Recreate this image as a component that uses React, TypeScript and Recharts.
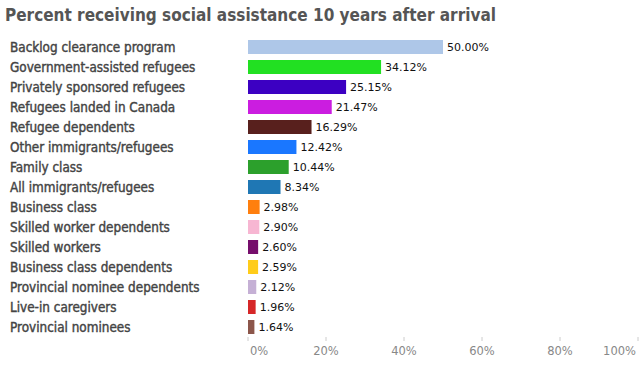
import React from 'react';
import { BarChart, Bar, XAxis, YAxis, Cell, LabelList } from 'recharts';

const categories = [
  'Backlog clearance program',
  'Government-assisted refugees',
  'Privately sponsored refugees',
  'Refugees landed in Canada',
  'Refugee dependents',
  'Other immigrants/refugees',
  'Family class',
  'All immigrants/refugees',
  'Business class',
  'Skilled worker dependents',
  'Skilled workers',
  'Business class dependents',
  'Provincial nominee dependents',
  'Live-in caregivers',
  'Provincial nominees',
];

const percents = [50.0, 34.12, 25.15, 21.47, 16.29, 12.42, 10.44, 8.34, 2.98, 2.9, 2.6, 2.59, 2.12, 1.96, 1.64];

const barColors = [
  '#aec7e8', '#22e022', '#3c00c2', '#cb1de0', '#58201d', '#1a77ff', '#2ca02c', '#1f77b4',
  '#ff7f0e', '#f7b6d2', '#760e6c', '#ffcc1a', '#c5b0d5', '#d62728', '#8c564b',
];

const xTicks = [0, 20, 40, 60, 80, 100];

const chartData = categories.map((name, i) => ({ name, value: percents[i] }));

const FONT = '"DejaVu Sans", Verdana, sans-serif';
const COND = '"DejaVu Sans Condensed", "DejaVu Sans", sans-serif';

const CategoryTick = (props: any) => {
  const { y, payload } = props;
  return (
    <text
      x={10} y={y} dy={5} textAnchor="start" fontFamily={COND} fontSize={13.4}
      fill="#444" stroke="#444" strokeWidth={0.4} style={{ fontStretch: 'condensed' }}
    >
      {payload.value}
    </text>
  );
};

const PercentTick = (props: any) => {
  const { x, y, payload, index } = props;
  let anchor = 'middle';
  let dx = 0;
  if (index === 0) { anchor = 'start'; dx = 2; }
  if (index === xTicks.length - 1) { anchor = 'end'; dx = -2; }
  return (
    <text x={x + dx} y={y} dy={12} textAnchor={anchor} fontFamily={FONT} fontSize={11.5} fill="#888">
      {`${payload.value}%`}
    </text>
  );
};

export default function App() {
  return (
    <div style={{ position: 'absolute', left: 0, top: 0, width: 643, height: 368, background: '#fff' }}>
      <div
        style={{
          position: 'absolute', left: 5, top: 5, fontFamily: COND, fontWeight: 'bold', fontStretch: 'condensed',
          fontSize: 17, color: '#555', whiteSpace: 'nowrap',
        }}
      >
        Percent receiving social assistance 10 years after arrival
      </div>
      <BarChart
        width={643}
        height={368}
        data={chartData}
        layout="vertical"
        margin={{ top: 37, right: 5, bottom: 0, left: 0 }}
        barCategoryGap={3}
      >
        <XAxis
          type="number"
          domain={[0, 100]}
          ticks={xTicks}
          axisLine={false}
          tickLine={{ stroke: '#ccc' }}
          tickSize={4}
          height={31}
          tick={<PercentTick />}
          interval={0}
        />
        <YAxis
          type="category"
          dataKey="name"
          width={248}
          axisLine={false}
          tickLine={false}
          tick={<CategoryTick />}
          interval={0}
        />
        <Bar dataKey="value" isAnimationActive={false}>
          {chartData.map((d, i) => (
            <Cell key={d.name} fill={barColors[i]} />
          ))}
          <LabelList
            dataKey="value"
            position="right"
            offset={4}
            formatter={(v: any) => `${Number(v).toFixed(2)}%`}
            style={{ fontFamily: FONT, fontSize: 11, fill: '#111' }}
          />
        </Bar>
      </BarChart>
    </div>
  );
}
